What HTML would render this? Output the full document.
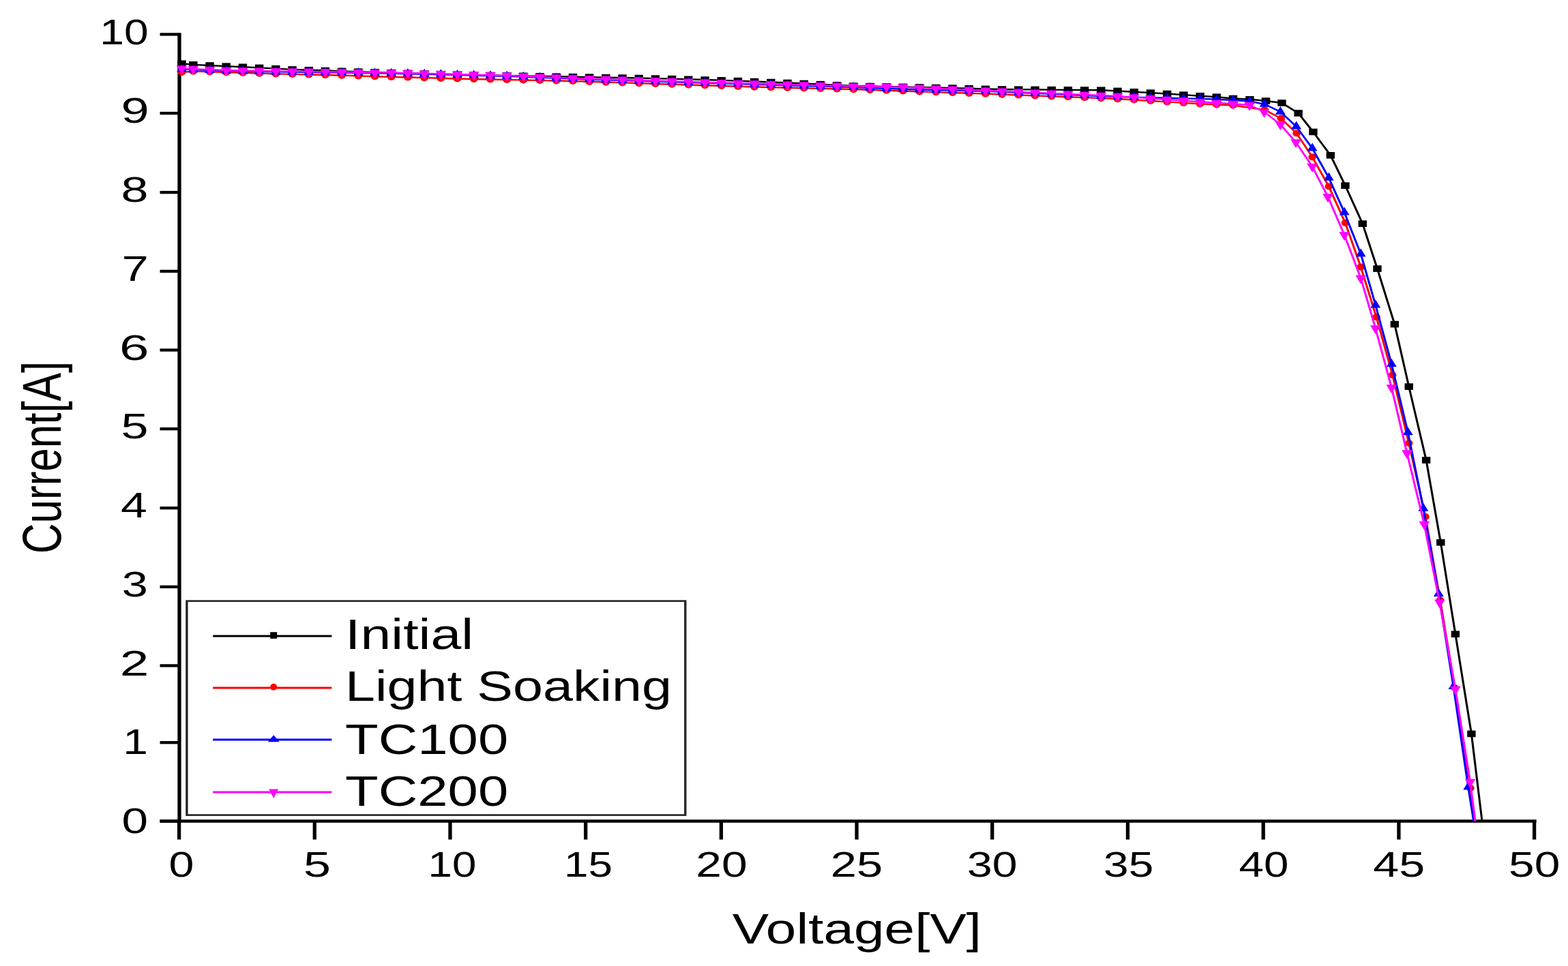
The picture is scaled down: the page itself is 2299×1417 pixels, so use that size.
<!DOCTYPE html>
<html><head><meta charset="utf-8"><title>I-V Curve</title>
<style>html,body{margin:0;padding:0;background:#fff;}body{width:2299px;height:1417px;overflow:hidden;}svg{display:block;}</style>
</head><body>
<svg width="2299" height="1417" viewBox="0 0 1796.09 1417" preserveAspectRatio="none"><line x1="205.47" y1="48.2" x2="205.47" y2="1206.6" stroke="#000" stroke-width="4.14"/>
<line x1="183.2" y1="1204.5" x2="1759.84" y2="1204.5" stroke="#000" stroke-width="4.3"/>
<line x1="183.2" y1="1204.5" x2="205.47" y2="1204.5" stroke="#000" stroke-width="4.3"/>
<line x1="183.2" y1="1089.2" x2="205.47" y2="1089.2" stroke="#000" stroke-width="4.3"/>
<line x1="183.2" y1="976.4" x2="205.47" y2="976.4" stroke="#000" stroke-width="4.3"/>
<line x1="183.2" y1="860.8" x2="205.47" y2="860.8" stroke="#000" stroke-width="4.3"/>
<line x1="183.2" y1="745.2" x2="205.47" y2="745.2" stroke="#000" stroke-width="4.3"/>
<line x1="183.2" y1="629.1" x2="205.47" y2="629.1" stroke="#000" stroke-width="4.3"/>
<line x1="183.2" y1="513.5" x2="205.47" y2="513.5" stroke="#000" stroke-width="4.3"/>
<line x1="183.2" y1="397.9" x2="205.47" y2="397.9" stroke="#000" stroke-width="4.3"/>
<line x1="183.2" y1="282.2" x2="205.47" y2="282.2" stroke="#000" stroke-width="4.3"/>
<line x1="183.2" y1="166.1" x2="205.47" y2="166.1" stroke="#000" stroke-width="4.3"/>
<line x1="183.2" y1="50.4" x2="205.47" y2="50.4" stroke="#000" stroke-width="4.3"/>
<line x1="205.16" y1="1204.5" x2="205.16" y2="1231.5" stroke="#000" stroke-width="4.14"/>
<line x1="360.39" y1="1204.5" x2="360.39" y2="1231.5" stroke="#000" stroke-width="4.14"/>
<line x1="515.62" y1="1204.5" x2="515.62" y2="1231.5" stroke="#000" stroke-width="4.14"/>
<line x1="670.86" y1="1204.5" x2="670.86" y2="1231.5" stroke="#000" stroke-width="4.14"/>
<line x1="826.09" y1="1204.5" x2="826.09" y2="1231.5" stroke="#000" stroke-width="4.14"/>
<line x1="981.33" y1="1204.5" x2="981.33" y2="1231.5" stroke="#000" stroke-width="4.14"/>
<line x1="1136.56" y1="1204.5" x2="1136.56" y2="1231.5" stroke="#000" stroke-width="4.14"/>
<line x1="1291.8" y1="1204.5" x2="1291.8" y2="1231.5" stroke="#000" stroke-width="4.14"/>
<line x1="1447.03" y1="1204.5" x2="1447.03" y2="1231.5" stroke="#000" stroke-width="4.14"/>
<line x1="1602.27" y1="1204.5" x2="1602.27" y2="1231.5" stroke="#000" stroke-width="4.14"/>
<line x1="1757.5" y1="1204.5" x2="1757.5" y2="1231.5" stroke="#000" stroke-width="4.14"/>
<text x="169.69" y="1222" font-size="51.5" text-anchor="end" font-family="'Liberation Sans', Arial, sans-serif" textLength="30.13" lengthAdjust="spacingAndGlyphs">0</text>
<text x="169.53" y="1106.26" font-size="51.5" text-anchor="end" font-family="'Liberation Sans', Arial, sans-serif">1</text>
<text x="170.47" y="990.52" font-size="51.5" text-anchor="end" font-family="'Liberation Sans', Arial, sans-serif" textLength="33.25" lengthAdjust="spacingAndGlyphs">2</text>
<text x="169.38" y="874.78" font-size="51.5" text-anchor="end" font-family="'Liberation Sans', Arial, sans-serif" textLength="29.75" lengthAdjust="spacingAndGlyphs">3</text>
<text x="168.59" y="759.04" font-size="51.5" text-anchor="end" font-family="'Liberation Sans', Arial, sans-serif" textLength="30.38" lengthAdjust="spacingAndGlyphs">4</text>
<text x="170" y="643.3" font-size="51.5" text-anchor="end" font-family="'Liberation Sans', Arial, sans-serif" textLength="31.23" lengthAdjust="spacingAndGlyphs">5</text>
<text x="170.78" y="527.56" font-size="51.5" text-anchor="end" font-family="'Liberation Sans', Arial, sans-serif" textLength="33.99" lengthAdjust="spacingAndGlyphs">6</text>
<text x="170.16" y="411.82" font-size="51.5" text-anchor="end" font-family="'Liberation Sans', Arial, sans-serif" textLength="30.75" lengthAdjust="spacingAndGlyphs">7</text>
<text x="170" y="296.08" font-size="51.5" text-anchor="end" font-family="'Liberation Sans', Arial, sans-serif" textLength="31.23" lengthAdjust="spacingAndGlyphs">8</text>
<text x="170.78" y="180.34" font-size="51.5" text-anchor="end" font-family="'Liberation Sans', Arial, sans-serif" textLength="32.17" lengthAdjust="spacingAndGlyphs">9</text>
<text x="170" y="64.6" font-size="51.5" text-anchor="end" font-family="'Liberation Sans', Arial, sans-serif" textLength="55.71" lengthAdjust="spacingAndGlyphs">10</text>
<text x="207.73" y="1286.5" font-size="51.5" text-anchor="middle" font-family="'Liberation Sans', Arial, sans-serif" textLength="28.88" lengthAdjust="spacingAndGlyphs">0</text>
<text x="363.36" y="1286.5" font-size="51.5" text-anchor="middle" font-family="'Liberation Sans', Arial, sans-serif" textLength="31.23" lengthAdjust="spacingAndGlyphs">5</text>
<text x="517.89" y="1286.5" font-size="51.5" text-anchor="middle" font-family="'Liberation Sans', Arial, sans-serif" textLength="55.37" lengthAdjust="spacingAndGlyphs">10</text>
<text x="673.83" y="1286.5" font-size="51.5" text-anchor="middle" font-family="'Liberation Sans', Arial, sans-serif" textLength="55.55" lengthAdjust="spacingAndGlyphs">15</text>
<text x="826.56" y="1286.5" font-size="51.5" text-anchor="middle" font-family="'Liberation Sans', Arial, sans-serif" textLength="58.97" lengthAdjust="spacingAndGlyphs">20</text>
<text x="981.25" y="1286.5" font-size="51.5" text-anchor="middle" font-family="'Liberation Sans', Arial, sans-serif" textLength="59.85" lengthAdjust="spacingAndGlyphs">25</text>
<text x="1136.56" y="1286.5" font-size="51.5" text-anchor="middle" font-family="'Liberation Sans', Arial, sans-serif" textLength="57.62" lengthAdjust="spacingAndGlyphs">30</text>
<text x="1292.73" y="1286.5" font-size="51.5" text-anchor="middle" font-family="'Liberation Sans', Arial, sans-serif" textLength="57.28" lengthAdjust="spacingAndGlyphs">35</text>
<text x="1447.66" y="1286.5" font-size="51.5" text-anchor="middle" font-family="'Liberation Sans', Arial, sans-serif" textLength="56.95" lengthAdjust="spacingAndGlyphs">40</text>
<text x="1602.58" y="1286.5" font-size="51.5" text-anchor="middle" font-family="'Liberation Sans', Arial, sans-serif" textLength="59.28" lengthAdjust="spacingAndGlyphs">45</text>
<text x="1757.58" y="1286.5" font-size="51.5" text-anchor="middle" font-family="'Liberation Sans', Arial, sans-serif" textLength="58.81" lengthAdjust="spacingAndGlyphs">50</text>
<text x="981.64" y="1384.4" font-size="62" text-anchor="middle" font-family="'Liberation Sans', Arial, sans-serif" textLength="285.4" lengthAdjust="spacingAndGlyphs">Voltage[V]</text>
<text transform="translate(69.53,671) rotate(-90)" x="0" y="0" font-size="62" text-anchor="middle" font-family="'Liberation Sans', Arial, sans-serif">Current[A]</text>
<polyline points="205.47,92 208.2,93.3 221.37,94.85 240.27,96.04 259.18,97.17 278.09,98.29 296.99,99.41 315.9,100.67 334.8,101.92 353.71,102.76 372.62,103.56 391.52,104.37 410.43,105.16 429.34,105.89 448.24,106.61 467.15,107.34 486.05,108.05 504.96,108.66 523.87,109.26 542.77,109.87 561.68,110.47 580.59,110.92 599.49,111.36 618.4,111.8 637.3,112.24 656.21,112.69 675.12,113.15 694.02,113.61 712.93,114.07 731.84,114.54 750.74,115.1 769.65,115.66 788.55,116.29 807.46,117.05 826.37,117.8 845.27,118.58 864.18,119.55 883.09,120.51 901.99,121.48 920.9,122.45 939.8,123.65 958.71,124.86 977.62,126.03 996.52,126.48 1015.43,126.93 1034.34,127.39 1053.24,127.94 1072.15,128.53 1091.05,129.12 1109.96,129.75 1128.87,130.39 1147.77,131.01 1166.68,131.22 1185.59,131.42 1204.49,131.63 1223.4,131.84 1242.3,132.04 1261.21,132.25 1280.12,133.43 1299.02,134.79 1317.93,136.15 1336.84,137.51 1355.74,139.14 1374.65,140.77 1393.55,142.19 1412.46,144.5 1431.56,145.8 1450,148 1468.28,151 1487.19,166 1504.22,193.5 1524.06,227.8 1540.94,272.2 1560.78,328.1 1577.66,394.1 1597.5,475.6 1613.83,567.1 1633.67,675 1650.23,795.7 1667.11,930.2 1685.47,1076.4 1697.66,1204.5" fill="none" stroke="#000000" stroke-width="2.4" stroke-linejoin="round"/>
<rect x="203.35" y="88.5" width="9.7" height="9.6" fill="#000000"/><rect x="216.52" y="90.05" width="9.7" height="9.6" fill="#000000"/><rect x="235.42" y="91.24" width="9.7" height="9.6" fill="#000000"/><rect x="254.33" y="92.37" width="9.7" height="9.6" fill="#000000"/><rect x="273.24" y="93.49" width="9.7" height="9.6" fill="#000000"/><rect x="292.14" y="94.61" width="9.7" height="9.6" fill="#000000"/><rect x="311.05" y="95.87" width="9.7" height="9.6" fill="#000000"/><rect x="329.95" y="97.12" width="9.7" height="9.6" fill="#000000"/><rect x="348.86" y="97.96" width="9.7" height="9.6" fill="#000000"/><rect x="367.77" y="98.77" width="9.7" height="9.6" fill="#000000"/><rect x="386.67" y="99.57" width="9.7" height="9.6" fill="#000000"/><rect x="405.58" y="100.36" width="9.7" height="9.6" fill="#000000"/><rect x="424.49" y="101.09" width="9.7" height="9.6" fill="#000000"/><rect x="443.39" y="101.81" width="9.7" height="9.6" fill="#000000"/><rect x="462.3" y="102.54" width="9.7" height="9.6" fill="#000000"/><rect x="481.2" y="103.25" width="9.7" height="9.6" fill="#000000"/><rect x="500.11" y="103.86" width="9.7" height="9.6" fill="#000000"/><rect x="519.02" y="104.46" width="9.7" height="9.6" fill="#000000"/><rect x="537.92" y="105.07" width="9.7" height="9.6" fill="#000000"/><rect x="556.83" y="105.67" width="9.7" height="9.6" fill="#000000"/><rect x="575.74" y="106.12" width="9.7" height="9.6" fill="#000000"/><rect x="594.64" y="106.56" width="9.7" height="9.6" fill="#000000"/><rect x="613.55" y="107" width="9.7" height="9.6" fill="#000000"/><rect x="632.45" y="107.44" width="9.7" height="9.6" fill="#000000"/><rect x="651.36" y="107.89" width="9.7" height="9.6" fill="#000000"/><rect x="670.27" y="108.35" width="9.7" height="9.6" fill="#000000"/><rect x="689.17" y="108.81" width="9.7" height="9.6" fill="#000000"/><rect x="708.08" y="109.27" width="9.7" height="9.6" fill="#000000"/><rect x="726.99" y="109.74" width="9.7" height="9.6" fill="#000000"/><rect x="745.89" y="110.3" width="9.7" height="9.6" fill="#000000"/><rect x="764.8" y="110.86" width="9.7" height="9.6" fill="#000000"/><rect x="783.7" y="111.49" width="9.7" height="9.6" fill="#000000"/><rect x="802.61" y="112.25" width="9.7" height="9.6" fill="#000000"/><rect x="821.52" y="113" width="9.7" height="9.6" fill="#000000"/><rect x="840.42" y="113.78" width="9.7" height="9.6" fill="#000000"/><rect x="859.33" y="114.75" width="9.7" height="9.6" fill="#000000"/><rect x="878.24" y="115.71" width="9.7" height="9.6" fill="#000000"/><rect x="897.14" y="116.68" width="9.7" height="9.6" fill="#000000"/><rect x="916.05" y="117.65" width="9.7" height="9.6" fill="#000000"/><rect x="934.95" y="118.85" width="9.7" height="9.6" fill="#000000"/><rect x="953.86" y="120.06" width="9.7" height="9.6" fill="#000000"/><rect x="972.77" y="121.23" width="9.7" height="9.6" fill="#000000"/><rect x="991.67" y="121.68" width="9.7" height="9.6" fill="#000000"/><rect x="1010.58" y="122.13" width="9.7" height="9.6" fill="#000000"/><rect x="1029.49" y="122.59" width="9.7" height="9.6" fill="#000000"/><rect x="1048.39" y="123.14" width="9.7" height="9.6" fill="#000000"/><rect x="1067.3" y="123.73" width="9.7" height="9.6" fill="#000000"/><rect x="1086.2" y="124.32" width="9.7" height="9.6" fill="#000000"/><rect x="1105.11" y="124.95" width="9.7" height="9.6" fill="#000000"/><rect x="1124.02" y="125.59" width="9.7" height="9.6" fill="#000000"/><rect x="1142.92" y="126.21" width="9.7" height="9.6" fill="#000000"/><rect x="1161.83" y="126.42" width="9.7" height="9.6" fill="#000000"/><rect x="1180.74" y="126.62" width="9.7" height="9.6" fill="#000000"/><rect x="1199.64" y="126.83" width="9.7" height="9.6" fill="#000000"/><rect x="1218.55" y="127.04" width="9.7" height="9.6" fill="#000000"/><rect x="1237.45" y="127.24" width="9.7" height="9.6" fill="#000000"/><rect x="1256.36" y="127.45" width="9.7" height="9.6" fill="#000000"/><rect x="1275.27" y="128.63" width="9.7" height="9.6" fill="#000000"/><rect x="1294.17" y="129.99" width="9.7" height="9.6" fill="#000000"/><rect x="1313.08" y="131.35" width="9.7" height="9.6" fill="#000000"/><rect x="1331.99" y="132.71" width="9.7" height="9.6" fill="#000000"/><rect x="1350.89" y="134.34" width="9.7" height="9.6" fill="#000000"/><rect x="1369.8" y="135.97" width="9.7" height="9.6" fill="#000000"/><rect x="1388.7" y="137.39" width="9.7" height="9.6" fill="#000000"/><rect x="1407.61" y="139.7" width="9.7" height="9.6" fill="#000000"/><rect x="1426.71" y="141" width="9.7" height="9.6" fill="#000000"/><rect x="1445.15" y="143.2" width="9.7" height="9.6" fill="#000000"/><rect x="1463.43" y="146.2" width="9.7" height="9.6" fill="#000000"/><rect x="1482.34" y="161.2" width="9.7" height="9.6" fill="#000000"/><rect x="1499.37" y="188.7" width="9.7" height="9.6" fill="#000000"/><rect x="1519.21" y="223" width="9.7" height="9.6" fill="#000000"/><rect x="1536.09" y="267.4" width="9.7" height="9.6" fill="#000000"/><rect x="1555.93" y="323.3" width="9.7" height="9.6" fill="#000000"/><rect x="1572.81" y="389.3" width="9.7" height="9.6" fill="#000000"/><rect x="1592.65" y="470.8" width="9.7" height="9.6" fill="#000000"/><rect x="1608.98" y="562.3" width="9.7" height="9.6" fill="#000000"/><rect x="1628.82" y="670.2" width="9.7" height="9.6" fill="#000000"/><rect x="1645.38" y="790.9" width="9.7" height="9.6" fill="#000000"/><rect x="1662.26" y="925.4" width="9.7" height="9.6" fill="#000000"/><rect x="1680.62" y="1071.6" width="9.7" height="9.6" fill="#000000"/>
<polyline points="205.47,106 208.2,106 221.37,104.63 240.27,105.3 259.18,106.15 278.09,106.9 296.99,107.64 315.9,108.38 334.8,108.92 353.71,109.46 372.62,109.99 391.52,110.54 410.43,111.36 429.34,112.18 448.24,112.81 467.15,113.43 486.05,114.06 504.96,114.79 523.87,115.51 542.77,116 561.68,116.48 580.59,116.96 599.49,117.45 618.4,117.96 637.3,118.48 656.21,119 675.12,119.78 694.02,120.57 712.93,121.36 731.84,122.14 750.74,122.93 769.65,123.7 788.55,124.47 807.46,125.23 826.37,126 845.27,126.77 864.18,127.53 883.09,128.11 901.99,128.7 920.9,129.28 939.8,129.86 958.71,130.45 977.62,131.05 996.52,131.87 1015.43,132.69 1034.34,133.51 1053.24,134.34 1072.15,135.16 1091.05,135.98 1109.96,136.81 1128.87,137.63 1147.77,138.53 1166.68,139.46 1185.59,140.39 1204.49,141.31 1223.4,142.24 1242.3,143.17 1261.21,144.09 1280.12,145.03 1299.02,146.49 1317.93,147.94 1336.84,149.39 1355.74,150.84 1374.65,152.29 1393.55,153.43 1412.46,154.51 1448.44,161 1467.42,173.7 1485.16,195.5 1503.2,230.3 1522.11,273.5 1540.94,326.8 1558.75,391.6 1576.64,465.2 1595.08,550 1613.83,650 1632.81,758 1649.61,880 1666.41,1009 1684.38,1156 1689.06,1204.5" fill="none" stroke="#ff0000" stroke-width="2.4" stroke-linejoin="round"/>
<ellipse cx="208.2" cy="106" rx="4.5" ry="5.1" fill="#ff0000"/><ellipse cx="221.37" cy="104.63" rx="4.5" ry="5.1" fill="#ff0000"/><ellipse cx="240.27" cy="105.3" rx="4.5" ry="5.1" fill="#ff0000"/><ellipse cx="259.18" cy="106.15" rx="4.5" ry="5.1" fill="#ff0000"/><ellipse cx="278.09" cy="106.9" rx="4.5" ry="5.1" fill="#ff0000"/><ellipse cx="296.99" cy="107.64" rx="4.5" ry="5.1" fill="#ff0000"/><ellipse cx="315.9" cy="108.38" rx="4.5" ry="5.1" fill="#ff0000"/><ellipse cx="334.8" cy="108.92" rx="4.5" ry="5.1" fill="#ff0000"/><ellipse cx="353.71" cy="109.46" rx="4.5" ry="5.1" fill="#ff0000"/><ellipse cx="372.62" cy="109.99" rx="4.5" ry="5.1" fill="#ff0000"/><ellipse cx="391.52" cy="110.54" rx="4.5" ry="5.1" fill="#ff0000"/><ellipse cx="410.43" cy="111.36" rx="4.5" ry="5.1" fill="#ff0000"/><ellipse cx="429.34" cy="112.18" rx="4.5" ry="5.1" fill="#ff0000"/><ellipse cx="448.24" cy="112.81" rx="4.5" ry="5.1" fill="#ff0000"/><ellipse cx="467.15" cy="113.43" rx="4.5" ry="5.1" fill="#ff0000"/><ellipse cx="486.05" cy="114.06" rx="4.5" ry="5.1" fill="#ff0000"/><ellipse cx="504.96" cy="114.79" rx="4.5" ry="5.1" fill="#ff0000"/><ellipse cx="523.87" cy="115.51" rx="4.5" ry="5.1" fill="#ff0000"/><ellipse cx="542.77" cy="116" rx="4.5" ry="5.1" fill="#ff0000"/><ellipse cx="561.68" cy="116.48" rx="4.5" ry="5.1" fill="#ff0000"/><ellipse cx="580.59" cy="116.96" rx="4.5" ry="5.1" fill="#ff0000"/><ellipse cx="599.49" cy="117.45" rx="4.5" ry="5.1" fill="#ff0000"/><ellipse cx="618.4" cy="117.96" rx="4.5" ry="5.1" fill="#ff0000"/><ellipse cx="637.3" cy="118.48" rx="4.5" ry="5.1" fill="#ff0000"/><ellipse cx="656.21" cy="119" rx="4.5" ry="5.1" fill="#ff0000"/><ellipse cx="675.12" cy="119.78" rx="4.5" ry="5.1" fill="#ff0000"/><ellipse cx="694.02" cy="120.57" rx="4.5" ry="5.1" fill="#ff0000"/><ellipse cx="712.93" cy="121.36" rx="4.5" ry="5.1" fill="#ff0000"/><ellipse cx="731.84" cy="122.14" rx="4.5" ry="5.1" fill="#ff0000"/><ellipse cx="750.74" cy="122.93" rx="4.5" ry="5.1" fill="#ff0000"/><ellipse cx="769.65" cy="123.7" rx="4.5" ry="5.1" fill="#ff0000"/><ellipse cx="788.55" cy="124.47" rx="4.5" ry="5.1" fill="#ff0000"/><ellipse cx="807.46" cy="125.23" rx="4.5" ry="5.1" fill="#ff0000"/><ellipse cx="826.37" cy="126" rx="4.5" ry="5.1" fill="#ff0000"/><ellipse cx="845.27" cy="126.77" rx="4.5" ry="5.1" fill="#ff0000"/><ellipse cx="864.18" cy="127.53" rx="4.5" ry="5.1" fill="#ff0000"/><ellipse cx="883.09" cy="128.11" rx="4.5" ry="5.1" fill="#ff0000"/><ellipse cx="901.99" cy="128.7" rx="4.5" ry="5.1" fill="#ff0000"/><ellipse cx="920.9" cy="129.28" rx="4.5" ry="5.1" fill="#ff0000"/><ellipse cx="939.8" cy="129.86" rx="4.5" ry="5.1" fill="#ff0000"/><ellipse cx="958.71" cy="130.45" rx="4.5" ry="5.1" fill="#ff0000"/><ellipse cx="977.62" cy="131.05" rx="4.5" ry="5.1" fill="#ff0000"/><ellipse cx="996.52" cy="131.87" rx="4.5" ry="5.1" fill="#ff0000"/><ellipse cx="1015.43" cy="132.69" rx="4.5" ry="5.1" fill="#ff0000"/><ellipse cx="1034.34" cy="133.51" rx="4.5" ry="5.1" fill="#ff0000"/><ellipse cx="1053.24" cy="134.34" rx="4.5" ry="5.1" fill="#ff0000"/><ellipse cx="1072.15" cy="135.16" rx="4.5" ry="5.1" fill="#ff0000"/><ellipse cx="1091.05" cy="135.98" rx="4.5" ry="5.1" fill="#ff0000"/><ellipse cx="1109.96" cy="136.81" rx="4.5" ry="5.1" fill="#ff0000"/><ellipse cx="1128.87" cy="137.63" rx="4.5" ry="5.1" fill="#ff0000"/><ellipse cx="1147.77" cy="138.53" rx="4.5" ry="5.1" fill="#ff0000"/><ellipse cx="1166.68" cy="139.46" rx="4.5" ry="5.1" fill="#ff0000"/><ellipse cx="1185.59" cy="140.39" rx="4.5" ry="5.1" fill="#ff0000"/><ellipse cx="1204.49" cy="141.31" rx="4.5" ry="5.1" fill="#ff0000"/><ellipse cx="1223.4" cy="142.24" rx="4.5" ry="5.1" fill="#ff0000"/><ellipse cx="1242.3" cy="143.17" rx="4.5" ry="5.1" fill="#ff0000"/><ellipse cx="1261.21" cy="144.09" rx="4.5" ry="5.1" fill="#ff0000"/><ellipse cx="1280.12" cy="145.03" rx="4.5" ry="5.1" fill="#ff0000"/><ellipse cx="1299.02" cy="146.49" rx="4.5" ry="5.1" fill="#ff0000"/><ellipse cx="1317.93" cy="147.94" rx="4.5" ry="5.1" fill="#ff0000"/><ellipse cx="1336.84" cy="149.39" rx="4.5" ry="5.1" fill="#ff0000"/><ellipse cx="1355.74" cy="150.84" rx="4.5" ry="5.1" fill="#ff0000"/><ellipse cx="1374.65" cy="152.29" rx="4.5" ry="5.1" fill="#ff0000"/><ellipse cx="1393.55" cy="153.43" rx="4.5" ry="5.1" fill="#ff0000"/><ellipse cx="1412.46" cy="154.51" rx="4.5" ry="5.1" fill="#ff0000"/><ellipse cx="1448.44" cy="161" rx="4.5" ry="5.1" fill="#ff0000"/><ellipse cx="1467.42" cy="173.7" rx="4.5" ry="5.1" fill="#ff0000"/><ellipse cx="1485.16" cy="195.5" rx="4.5" ry="5.1" fill="#ff0000"/><ellipse cx="1503.2" cy="230.3" rx="4.5" ry="5.1" fill="#ff0000"/><ellipse cx="1522.11" cy="273.5" rx="4.5" ry="5.1" fill="#ff0000"/><ellipse cx="1540.94" cy="326.8" rx="4.5" ry="5.1" fill="#ff0000"/><ellipse cx="1558.75" cy="391.6" rx="4.5" ry="5.1" fill="#ff0000"/><ellipse cx="1576.64" cy="465.2" rx="4.5" ry="5.1" fill="#ff0000"/><ellipse cx="1595.08" cy="550" rx="4.5" ry="5.1" fill="#ff0000"/><ellipse cx="1613.83" cy="650" rx="4.5" ry="5.1" fill="#ff0000"/><ellipse cx="1632.81" cy="758" rx="4.5" ry="5.1" fill="#ff0000"/><ellipse cx="1649.61" cy="880" rx="4.5" ry="5.1" fill="#ff0000"/><ellipse cx="1666.41" cy="1009" rx="4.5" ry="5.1" fill="#ff0000"/><ellipse cx="1684.38" cy="1156" rx="4.5" ry="5.1" fill="#ff0000"/>
<polyline points="205.47,101.5 208.2,101.5 221.37,102.14 240.27,103.1 259.18,104.03 278.09,104.48 296.99,104.94 315.9,105.39 334.8,105.67 353.71,105.95 372.62,106.23 391.52,106.52 410.43,106.96 429.34,107.41 448.24,107.85 467.15,108.3 486.05,108.76 504.96,109.37 523.87,109.99 542.77,110.61 561.68,111.23 580.59,111.85 599.49,112.77 618.4,113.72 637.3,114.66 656.21,115.61 675.12,116.44 694.02,117.19 712.93,117.94 731.84,118.7 750.74,119.45 769.65,120.2 788.55,120.95 807.46,121.69 826.37,122.4 845.27,123.11 864.18,123.82 883.09,124.53 901.99,125.23 920.9,125.94 939.8,126.65 958.71,127.36 977.62,128.09 996.52,128.98 1015.43,129.88 1034.34,130.78 1053.24,131.45 1072.15,132.06 1091.05,132.66 1109.96,133.27 1128.87,133.87 1147.77,134.81 1166.68,135.84 1185.59,136.87 1204.49,137.9 1223.4,138.93 1242.3,139.96 1261.21,140.99 1280.12,142.01 1299.02,142.59 1317.93,143.17 1336.84,143.76 1355.74,144.34 1374.65,144.92 1393.55,145.69 1412.46,147 1431.37,148.5 1448.44,152.8 1466.64,164 1484.84,185.5 1503.2,217.6 1522.11,260.8 1539.92,311.6 1558.75,372.5 1575.62,447.5 1593.98,534.1 1612.73,634.3 1630.39,745.8 1647.89,870.9 1664.84,1006.9 1681.8,1154.5 1688.05,1204.5" fill="none" stroke="#0000ff" stroke-width="2.4" stroke-linejoin="round"/>
<path d="M208.2,93.5L214,105.5L202.4,105.5Z" fill="#0000ff"/><path d="M221.37,94.14L227.17,106.14L215.57,106.14Z" fill="#0000ff"/><path d="M240.27,95.1L246.07,107.1L234.47,107.1Z" fill="#0000ff"/><path d="M259.18,96.03L264.98,108.03L253.38,108.03Z" fill="#0000ff"/><path d="M278.09,96.48L283.89,108.48L272.29,108.48Z" fill="#0000ff"/><path d="M296.99,96.94L302.79,108.94L291.19,108.94Z" fill="#0000ff"/><path d="M315.9,97.39L321.7,109.39L310.1,109.39Z" fill="#0000ff"/><path d="M334.8,97.67L340.6,109.67L329,109.67Z" fill="#0000ff"/><path d="M353.71,97.95L359.51,109.95L347.91,109.95Z" fill="#0000ff"/><path d="M372.62,98.23L378.42,110.23L366.82,110.23Z" fill="#0000ff"/><path d="M391.52,98.52L397.32,110.52L385.72,110.52Z" fill="#0000ff"/><path d="M410.43,98.96L416.23,110.96L404.63,110.96Z" fill="#0000ff"/><path d="M429.34,99.41L435.14,111.41L423.54,111.41Z" fill="#0000ff"/><path d="M448.24,99.85L454.04,111.85L442.44,111.85Z" fill="#0000ff"/><path d="M467.15,100.3L472.95,112.3L461.35,112.3Z" fill="#0000ff"/><path d="M486.05,100.76L491.85,112.76L480.25,112.76Z" fill="#0000ff"/><path d="M504.96,101.37L510.76,113.37L499.16,113.37Z" fill="#0000ff"/><path d="M523.87,101.99L529.67,113.99L518.07,113.99Z" fill="#0000ff"/><path d="M542.77,102.61L548.57,114.61L536.97,114.61Z" fill="#0000ff"/><path d="M561.68,103.23L567.48,115.23L555.88,115.23Z" fill="#0000ff"/><path d="M580.59,103.85L586.39,115.85L574.79,115.85Z" fill="#0000ff"/><path d="M599.49,104.77L605.29,116.77L593.69,116.77Z" fill="#0000ff"/><path d="M618.4,105.72L624.2,117.72L612.6,117.72Z" fill="#0000ff"/><path d="M637.3,106.66L643.1,118.66L631.5,118.66Z" fill="#0000ff"/><path d="M656.21,107.61L662.01,119.61L650.41,119.61Z" fill="#0000ff"/><path d="M675.12,108.44L680.92,120.44L669.32,120.44Z" fill="#0000ff"/><path d="M694.02,109.19L699.82,121.19L688.22,121.19Z" fill="#0000ff"/><path d="M712.93,109.94L718.73,121.94L707.13,121.94Z" fill="#0000ff"/><path d="M731.84,110.7L737.64,122.7L726.04,122.7Z" fill="#0000ff"/><path d="M750.74,111.45L756.54,123.45L744.94,123.45Z" fill="#0000ff"/><path d="M769.65,112.2L775.45,124.2L763.85,124.2Z" fill="#0000ff"/><path d="M788.55,112.95L794.35,124.95L782.75,124.95Z" fill="#0000ff"/><path d="M807.46,113.69L813.26,125.69L801.66,125.69Z" fill="#0000ff"/><path d="M826.37,114.4L832.17,126.4L820.57,126.4Z" fill="#0000ff"/><path d="M845.27,115.11L851.07,127.11L839.47,127.11Z" fill="#0000ff"/><path d="M864.18,115.82L869.98,127.82L858.38,127.82Z" fill="#0000ff"/><path d="M883.09,116.53L888.89,128.53L877.29,128.53Z" fill="#0000ff"/><path d="M901.99,117.23L907.79,129.23L896.19,129.23Z" fill="#0000ff"/><path d="M920.9,117.94L926.7,129.94L915.1,129.94Z" fill="#0000ff"/><path d="M939.8,118.65L945.6,130.65L934,130.65Z" fill="#0000ff"/><path d="M958.71,119.36L964.51,131.36L952.91,131.36Z" fill="#0000ff"/><path d="M977.62,120.09L983.42,132.09L971.82,132.09Z" fill="#0000ff"/><path d="M996.52,120.98L1002.32,132.98L990.72,132.98Z" fill="#0000ff"/><path d="M1015.43,121.88L1021.23,133.88L1009.63,133.88Z" fill="#0000ff"/><path d="M1034.34,122.78L1040.14,134.78L1028.54,134.78Z" fill="#0000ff"/><path d="M1053.24,123.45L1059.04,135.45L1047.44,135.45Z" fill="#0000ff"/><path d="M1072.15,124.06L1077.95,136.06L1066.35,136.06Z" fill="#0000ff"/><path d="M1091.05,124.66L1096.85,136.66L1085.25,136.66Z" fill="#0000ff"/><path d="M1109.96,125.27L1115.76,137.27L1104.16,137.27Z" fill="#0000ff"/><path d="M1128.87,125.87L1134.67,137.87L1123.07,137.87Z" fill="#0000ff"/><path d="M1147.77,126.81L1153.57,138.81L1141.97,138.81Z" fill="#0000ff"/><path d="M1166.68,127.84L1172.48,139.84L1160.88,139.84Z" fill="#0000ff"/><path d="M1185.59,128.87L1191.39,140.87L1179.79,140.87Z" fill="#0000ff"/><path d="M1204.49,129.9L1210.29,141.9L1198.69,141.9Z" fill="#0000ff"/><path d="M1223.4,130.93L1229.2,142.93L1217.6,142.93Z" fill="#0000ff"/><path d="M1242.3,131.96L1248.1,143.96L1236.5,143.96Z" fill="#0000ff"/><path d="M1261.21,132.99L1267.01,144.99L1255.41,144.99Z" fill="#0000ff"/><path d="M1280.12,134.01L1285.92,146.01L1274.32,146.01Z" fill="#0000ff"/><path d="M1299.02,134.59L1304.82,146.59L1293.22,146.59Z" fill="#0000ff"/><path d="M1317.93,135.17L1323.73,147.17L1312.13,147.17Z" fill="#0000ff"/><path d="M1336.84,135.76L1342.64,147.76L1331.04,147.76Z" fill="#0000ff"/><path d="M1355.74,136.34L1361.54,148.34L1349.94,148.34Z" fill="#0000ff"/><path d="M1374.65,136.92L1380.45,148.92L1368.85,148.92Z" fill="#0000ff"/><path d="M1393.55,137.69L1399.35,149.69L1387.75,149.69Z" fill="#0000ff"/><path d="M1412.46,139L1418.26,151L1406.66,151Z" fill="#0000ff"/><path d="M1431.37,140.5L1437.17,152.5L1425.57,152.5Z" fill="#0000ff"/><path d="M1448.44,144.8L1454.24,156.8L1442.64,156.8Z" fill="#0000ff"/><path d="M1466.64,156L1472.44,168L1460.84,168Z" fill="#0000ff"/><path d="M1484.84,177.5L1490.64,189.5L1479.04,189.5Z" fill="#0000ff"/><path d="M1503.2,209.6L1509,221.6L1497.4,221.6Z" fill="#0000ff"/><path d="M1522.11,252.8L1527.91,264.8L1516.31,264.8Z" fill="#0000ff"/><path d="M1539.92,303.6L1545.72,315.6L1534.12,315.6Z" fill="#0000ff"/><path d="M1558.75,364.5L1564.55,376.5L1552.95,376.5Z" fill="#0000ff"/><path d="M1575.62,439.5L1581.42,451.5L1569.83,451.5Z" fill="#0000ff"/><path d="M1593.98,526.1L1599.78,538.1L1588.18,538.1Z" fill="#0000ff"/><path d="M1612.73,626.3L1618.53,638.3L1606.93,638.3Z" fill="#0000ff"/><path d="M1630.39,737.8L1636.19,749.8L1624.59,749.8Z" fill="#0000ff"/><path d="M1647.89,862.9L1653.69,874.9L1642.09,874.9Z" fill="#0000ff"/><path d="M1664.84,998.9L1670.64,1010.9L1659.04,1010.9Z" fill="#0000ff"/><path d="M1681.8,1146.5L1687.6,1158.5L1676,1158.5Z" fill="#0000ff"/>
<polyline points="205.47,100.5 208.2,100.5 221.37,101.14 240.27,102.1 259.18,103.03 278.09,103.48 296.99,103.94 315.9,104.39 334.8,104.67 353.71,104.95 372.62,105.23 391.52,105.52 410.43,105.96 429.34,106.41 448.24,106.85 467.15,107.3 486.05,107.76 504.96,108.37 523.87,108.99 542.77,109.61 561.68,110.23 580.59,110.85 599.49,111.77 618.4,112.72 637.3,113.66 656.21,114.61 675.12,115.44 694.02,116.19 712.93,116.94 731.84,117.7 750.74,118.45 769.65,119.2 788.55,119.95 807.46,120.68 826.37,121.33 845.27,121.99 864.18,122.64 883.09,123.29 901.99,123.95 920.9,124.6 939.8,125.26 958.71,125.91 977.62,126.54 996.52,126.99 1015.43,127.44 1034.34,127.89 1053.24,128.76 1072.15,129.76 1091.05,130.77 1109.96,131.78 1128.87,132.79 1147.77,133.81 1166.68,134.84 1185.59,135.87 1204.49,136.9 1223.4,137.93 1242.3,138.96 1261.21,139.99 1280.12,141.04 1299.02,142.68 1317.93,144.33 1336.84,145.97 1355.74,147.62 1374.65,149.27 1393.55,150.98 1412.46,152.2 1431.25,154.2 1448.05,164 1466.64,182.5 1484.38,208.7 1503.2,244.3 1521.09,288.7 1539.92,344.6 1558.75,408.1 1575.62,481.7 1593.98,568.5 1611.64,664.5 1631.48,769 1649.06,883.9 1667.11,1011.2 1684.06,1147.2 1689.84,1204.5" fill="none" stroke="#ff00ff" stroke-width="2.4" stroke-linejoin="round"/>
<path d="M208.2,109.17L214.3,96.17L202.1,96.17Z" fill="#ff00ff"/><path d="M221.37,109.8L227.47,96.8L215.27,96.8Z" fill="#ff00ff"/><path d="M240.27,110.77L246.37,97.77L234.17,97.77Z" fill="#ff00ff"/><path d="M259.18,111.7L265.28,98.7L253.08,98.7Z" fill="#ff00ff"/><path d="M278.09,112.15L284.19,99.15L271.99,99.15Z" fill="#ff00ff"/><path d="M296.99,112.6L303.09,99.6L290.89,99.6Z" fill="#ff00ff"/><path d="M315.9,113.05L322,100.05L309.8,100.05Z" fill="#ff00ff"/><path d="M334.8,113.34L340.9,100.34L328.7,100.34Z" fill="#ff00ff"/><path d="M353.71,113.62L359.81,100.62L347.61,100.62Z" fill="#ff00ff"/><path d="M372.62,113.9L378.72,100.9L366.52,100.9Z" fill="#ff00ff"/><path d="M391.52,114.19L397.62,101.19L385.42,101.19Z" fill="#ff00ff"/><path d="M410.43,114.63L416.53,101.63L404.33,101.63Z" fill="#ff00ff"/><path d="M429.34,115.08L435.44,102.08L423.24,102.08Z" fill="#ff00ff"/><path d="M448.24,115.52L454.34,102.52L442.14,102.52Z" fill="#ff00ff"/><path d="M467.15,115.96L473.25,102.96L461.05,102.96Z" fill="#ff00ff"/><path d="M486.05,116.42L492.15,103.42L479.95,103.42Z" fill="#ff00ff"/><path d="M504.96,117.04L511.06,104.04L498.86,104.04Z" fill="#ff00ff"/><path d="M523.87,117.66L529.97,104.66L517.77,104.66Z" fill="#ff00ff"/><path d="M542.77,118.28L548.87,105.28L536.67,105.28Z" fill="#ff00ff"/><path d="M561.68,118.9L567.78,105.9L555.58,105.9Z" fill="#ff00ff"/><path d="M580.59,119.52L586.69,106.52L574.49,106.52Z" fill="#ff00ff"/><path d="M599.49,120.44L605.59,107.44L593.39,107.44Z" fill="#ff00ff"/><path d="M618.4,121.38L624.5,108.38L612.3,108.38Z" fill="#ff00ff"/><path d="M637.3,122.33L643.4,109.33L631.2,109.33Z" fill="#ff00ff"/><path d="M656.21,123.27L662.31,110.27L650.11,110.27Z" fill="#ff00ff"/><path d="M675.12,124.11L681.22,111.11L669.02,111.11Z" fill="#ff00ff"/><path d="M694.02,124.86L700.12,111.86L687.92,111.86Z" fill="#ff00ff"/><path d="M712.93,125.61L719.03,112.61L706.83,112.61Z" fill="#ff00ff"/><path d="M731.84,126.36L737.94,113.36L725.74,113.36Z" fill="#ff00ff"/><path d="M750.74,127.11L756.84,114.11L744.64,114.11Z" fill="#ff00ff"/><path d="M769.65,127.87L775.75,114.87L763.55,114.87Z" fill="#ff00ff"/><path d="M788.55,128.62L794.65,115.62L782.45,115.62Z" fill="#ff00ff"/><path d="M807.46,129.34L813.56,116.34L801.36,116.34Z" fill="#ff00ff"/><path d="M826.37,130L832.47,117L820.27,117Z" fill="#ff00ff"/><path d="M845.27,130.65L851.37,117.65L839.17,117.65Z" fill="#ff00ff"/><path d="M864.18,131.31L870.28,118.31L858.08,118.31Z" fill="#ff00ff"/><path d="M883.09,131.96L889.19,118.96L876.99,118.96Z" fill="#ff00ff"/><path d="M901.99,132.61L908.09,119.61L895.89,119.61Z" fill="#ff00ff"/><path d="M920.9,133.27L927,120.27L914.8,120.27Z" fill="#ff00ff"/><path d="M939.8,133.92L945.9,120.92L933.7,120.92Z" fill="#ff00ff"/><path d="M958.71,134.58L964.81,121.58L952.61,121.58Z" fill="#ff00ff"/><path d="M977.62,135.21L983.72,122.21L971.52,122.21Z" fill="#ff00ff"/><path d="M996.52,135.66L1002.62,122.66L990.42,122.66Z" fill="#ff00ff"/><path d="M1015.43,136.11L1021.53,123.11L1009.33,123.11Z" fill="#ff00ff"/><path d="M1034.34,136.55L1040.44,123.55L1028.24,123.55Z" fill="#ff00ff"/><path d="M1053.24,137.42L1059.34,124.42L1047.14,124.42Z" fill="#ff00ff"/><path d="M1072.15,138.43L1078.25,125.43L1066.05,125.43Z" fill="#ff00ff"/><path d="M1091.05,139.44L1097.15,126.44L1084.95,126.44Z" fill="#ff00ff"/><path d="M1109.96,140.45L1116.06,127.45L1103.86,127.45Z" fill="#ff00ff"/><path d="M1128.87,141.46L1134.97,128.46L1122.77,128.46Z" fill="#ff00ff"/><path d="M1147.77,142.48L1153.87,129.48L1141.67,129.48Z" fill="#ff00ff"/><path d="M1166.68,143.51L1172.78,130.51L1160.58,130.51Z" fill="#ff00ff"/><path d="M1185.59,144.54L1191.69,131.54L1179.49,131.54Z" fill="#ff00ff"/><path d="M1204.49,145.57L1210.59,132.57L1198.39,132.57Z" fill="#ff00ff"/><path d="M1223.4,146.6L1229.5,133.6L1217.3,133.6Z" fill="#ff00ff"/><path d="M1242.3,147.63L1248.4,134.63L1236.2,134.63Z" fill="#ff00ff"/><path d="M1261.21,148.66L1267.31,135.66L1255.11,135.66Z" fill="#ff00ff"/><path d="M1280.12,149.7L1286.22,136.7L1274.02,136.7Z" fill="#ff00ff"/><path d="M1299.02,151.35L1305.12,138.35L1292.92,138.35Z" fill="#ff00ff"/><path d="M1317.93,153L1324.03,140L1311.83,140Z" fill="#ff00ff"/><path d="M1336.84,154.64L1342.94,141.64L1330.74,141.64Z" fill="#ff00ff"/><path d="M1355.74,156.29L1361.84,143.29L1349.64,143.29Z" fill="#ff00ff"/><path d="M1374.65,157.93L1380.75,144.93L1368.55,144.93Z" fill="#ff00ff"/><path d="M1393.55,159.65L1399.65,146.65L1387.45,146.65Z" fill="#ff00ff"/><path d="M1412.46,160.86L1418.56,147.86L1406.36,147.86Z" fill="#ff00ff"/><path d="M1431.25,162.87L1437.35,149.87L1425.15,149.87Z" fill="#ff00ff"/><path d="M1448.05,172.67L1454.15,159.67L1441.95,159.67Z" fill="#ff00ff"/><path d="M1466.64,191.17L1472.74,178.17L1460.54,178.17Z" fill="#ff00ff"/><path d="M1484.38,217.37L1490.47,204.37L1478.28,204.37Z" fill="#ff00ff"/><path d="M1503.2,252.97L1509.3,239.97L1497.1,239.97Z" fill="#ff00ff"/><path d="M1521.09,297.37L1527.19,284.37L1514.99,284.37Z" fill="#ff00ff"/><path d="M1539.92,353.27L1546.02,340.27L1533.82,340.27Z" fill="#ff00ff"/><path d="M1558.75,416.77L1564.85,403.77L1552.65,403.77Z" fill="#ff00ff"/><path d="M1575.62,490.37L1581.72,477.37L1569.53,477.37Z" fill="#ff00ff"/><path d="M1593.98,577.17L1600.08,564.17L1587.88,564.17Z" fill="#ff00ff"/><path d="M1611.64,673.17L1617.74,660.17L1605.54,660.17Z" fill="#ff00ff"/><path d="M1631.48,777.67L1637.58,764.67L1625.38,764.67Z" fill="#ff00ff"/><path d="M1649.06,892.57L1655.16,879.57L1642.96,879.57Z" fill="#ff00ff"/><path d="M1667.11,1019.87L1673.21,1006.87L1661.01,1006.87Z" fill="#ff00ff"/><path d="M1684.06,1155.87L1690.16,1142.87L1677.96,1142.87Z" fill="#ff00ff"/>
<rect x="213.98" y="881.6" width="571.02" height="314" fill="#fff" stroke="#222" stroke-width="2.6"/>
<line x1="243.91" y1="933" x2="380" y2="933" stroke="#000000" stroke-width="2.8"/>
<rect x="309.54" y="927.2" width="7.8" height="9.6" fill="#000000"/>
<text x="395.31" y="952.3" font-size="63" font-family="'Liberation Sans', Arial, sans-serif">Initial</text>
<line x1="243.91" y1="1009" x2="380" y2="1009" stroke="#ff0000" stroke-width="2.8"/>
<ellipse cx="313.44" cy="1007.8" rx="3.9" ry="5" fill="#ff0000"/>
<text x="395.31" y="1028" font-size="63" font-family="'Liberation Sans', Arial, sans-serif" textLength="374.2" lengthAdjust="spacingAndGlyphs">Light Soaking</text>
<line x1="243.91" y1="1085" x2="380" y2="1085" stroke="#0000ff" stroke-width="2.8"/>
<path d="M313.44,1078.33L320.09,1088.33L306.79,1088.33Z" fill="#0000ff"/>
<text x="395.31" y="1106" font-size="63" font-family="'Liberation Sans', Arial, sans-serif" textLength="186.9" lengthAdjust="spacingAndGlyphs">TC100</text>
<line x1="243.91" y1="1162" x2="380" y2="1162" stroke="#ff00ff" stroke-width="2.8"/>
<path d="M313.44,1171L318.94,1157.5L307.94,1157.5Z" fill="#ff00ff"/>
<text x="395.31" y="1182.3" font-size="63" font-family="'Liberation Sans', Arial, sans-serif" textLength="186.9" lengthAdjust="spacingAndGlyphs">TC200</text></svg>
</body></html>
